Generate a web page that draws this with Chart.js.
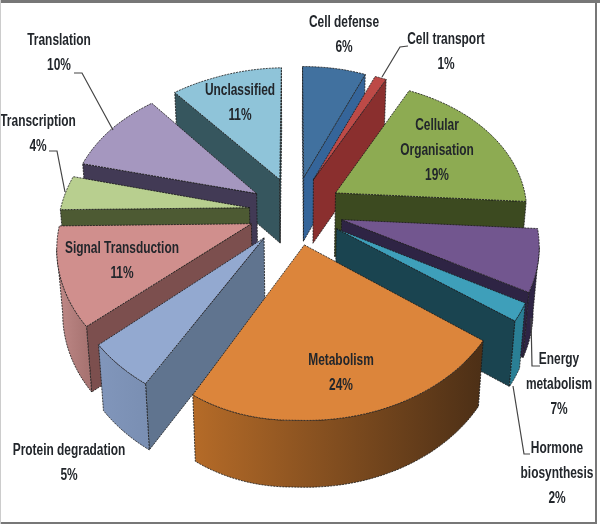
<!DOCTYPE html>
<html>
<head>
<meta charset="utf-8">
<title>Functional categories</title>
<script src="https://cdn.jsdelivr.net/npm/chart.js@4"></script>
<style>
  html, body { margin: 0; padding: 0; background: #fff; }
  #box { width: 600px; height: 526px; }
  canvas { filter: blur(0.4px); }
</style>
</head>
<body>
<div id="box"><canvas id="pie" width="600" height="526"></canvas></div>
<script>
// values
const categories = ['Cell defense', 'Cell transport', 'Cellular Organisation', 'Energy metabolism', 'Hormone biosynthesis',
  'Metabolism', 'Protein degradation', 'Signal Transduction', 'Transcription', 'Translation', 'Unclassified'];
const percents = [6, 1, 19, 7, 2, 24, 5, 11, 4, 10, 11];

// slice colours: top face, radial walls, outer wall (left to right)
const topColors = ['#41719f', '#bd4a47', '#8dab52', '#72568f', '#3e9fba', '#dc853b', '#93a9d0', '#d08f8d', '#b8cf8f', '#a597bf', '#8fc4d9'];
const sideColors = ['#35659a', '#8a2f2e', '#3c4a20', '#2e2444', '#1a4450', '#4f3016', '#60748f', '#7c4f4e', '#4d5a33', '#423a55', '#36565e'];
const outerColors = [['#35659a', '#35659a'], ['#8a2f2e', '#8a2f2e'], ['#3c4a20', '#3c4a20'], ['#2e2444', '#2e2444'],
  ['#2a7f95', '#2a7f95'], ['#b56b28', '#4c2f16'], ['#8196bb', '#7a8fb3'], ['#c08a88', '#a87472'], ['#4d5a33', '#4d5a33'],
  ['#423a55', '#423a55'], ['#36565e', '#36565e']];

// label placement, one entry per slice
const labelLines = [['Cell defense'], ['Cell transport'], ['Cellular', 'Organisation'], ['Energy', 'metabolism'], ['Hormone', 'biosynthesis'],
  ['Metabolism'], ['Protein degradation'], ['Signal Transduction'], ['Transcription'], ['Translation'], ['Unclassified']];
const labelPos = [[344, 23], [446, 40], [437, 126], [559, 360], [557, 449], [341, 361], [69, 451], [122, 249], [38, 122], [59, 41], [240, 91]];
const leaders = [
  [[408, 46], [400, 47], [382, 77]],
  [[540, 366], [532, 366], [531, 318]],
  [[530, 454], [524, 454], [513, 386]],
  [[49, 151], [57, 151], [65, 192]],
  [[74, 73], [82, 73], [113, 130]]
];

// fake camera for the tilted pie
const cam = { cx: 295, cy: 210, sx: 192, sy: 137, k: 0.152, depth: 64, shrink: 0.975 };

function clamp(n) { return Math.min(1, Math.max(0, n)); }

function project(u, v) {
  const w = 1 / (1 - cam.k * v);
  // the original's view is a bit off axis, these pull the left and back right rims in line
  const left = clamp(-u * 2);
  const backRight = clamp((u - 0.3) / 0.35) * clamp(-v);
  return {
    x: cam.cx + cam.sx * u * w + left * Math.max(0, 4 + 6 * v) + 8 * backRight,
    y: cam.cy + cam.sy * v * w + left * (4 + 2 * v) + 3 * backRight,
    w: w
  };
}
function lower(p) {
  return { x: cam.cx + (p.x - cam.cx) * cam.shrink, y: p.y + cam.depth + 12 * (p.w - 1) };
}
function poly(ctx, pts, fill) {
  ctx.beginPath();
  pts.forEach((p, i) => i ? ctx.lineTo(p.x, p.y) : ctx.moveTo(p.x, p.y));
  ctx.closePath();
  ctx.fillStyle = fill;
  ctx.fill();
  ctx.stroke();
}
// a radial wall shows only when the wedge lies above its edge on screen
function wallVisible(a, b, other) {
  const l = a.x < b.x ? a : b, r = a.x < b.x ? b : a;
  return (r.x - l.x) * (other.y - l.y) - (r.y - l.y) * (other.x - l.x) < 0;
}

const pie3d = {
  id: 'pie3d',
  beforeDatasetsDraw(chart) {
    const ctx = chart.ctx;
    const arcs = chart.getDatasetMeta(0).data;
    const slices = arcs.map((arc, i) => {
      const start = arc.startAngle, end = arc.endAngle, mid = (start + end) / 2;
      const e = arc.options.offset / arc.outerRadius;
      const ox = e * Math.cos(mid), oy = e * Math.sin(mid);
      const rim = [];
      for (let s = 0; s <= 48; s++) {
        const a = start + (end - start) * s / 48;
        rim.push(project(ox + Math.cos(a), oy + Math.sin(a)));
      }
      return { i: i, apex: project(ox, oy), rim: rim, order: Math.sin(mid) };
    });
    slices.sort((a, b) => a.order - b.order);

    ctx.save();
    ctx.lineWidth = 1;
    ctx.strokeStyle = 'rgba(25,25,25,0.8)';
    ctx.setLineDash([2, 1]);
    slices.forEach(s => {
      const first = s.rim[0], last = s.rim[s.rim.length - 1];
      if (wallVisible(s.apex, first, last)) {
        poly(ctx, [s.apex, first, lower(first), lower(s.apex)], sideColors[s.i]);
      }
      if (wallVisible(s.apex, last, first)) {
        poly(ctx, [s.apex, last, lower(last), lower(s.apex)], sideColors[s.i]);
      }
      // outer wall, only the stretch that faces the viewer
      const front = s.rim.filter((p, n) => (n < s.rim.length - 1 && s.rim[n + 1].x < p.x) || (n > 0 && p.x < s.rim[n - 1].x));
      if (front.length > 1) {
        const grad = ctx.createLinearGradient(front[front.length - 1].x, 0, front[0].x, 0);
        grad.addColorStop(0, outerColors[s.i][0]);
        grad.addColorStop(1, outerColors[s.i][1]);
        poly(ctx, front.concat(front.map(lower).reverse()), grad);
      }
      poly(ctx, [s.apex].concat(s.rim), topColors[s.i]);
    });
    ctx.restore();
    return false;
  },
  afterDraw(chart) {
    const ctx = chart.ctx;
    ctx.save();
    // leader lines
    ctx.strokeStyle = '#444';
    ctx.lineWidth = 1.2;
    leaders.forEach(line => {
      ctx.beginPath();
      line.forEach((p, i) => i ? ctx.lineTo(p[0], p[1]) : ctx.moveTo(p[0], p[1]));
      ctx.stroke();
    });
    // labels, squeezed because no narrow face is installed
    ctx.fillStyle = '#22262b';
    ctx.font = 'bold 16px "Liberation Sans", sans-serif';
    ctx.textAlign = 'center';
    ctx.textBaseline = 'middle';
    labelLines.forEach((lines, i) => {
      const all = lines.concat(percents[i] + '%');
      all.forEach((t, n) => {
        ctx.save();
        ctx.translate(labelPos[i][0], labelPos[i][1] + n * 25);
        ctx.scale(0.745, 1);
        ctx.fillText(t, 0, 0);
        ctx.restore();
      });
    });
    // picture frame
    ctx.fillStyle = '#777';
    ctx.fillRect(0, 0, 600, 3);
    ctx.fillRect(595, 0, 2, 524);
    ctx.fillRect(0, 522, 597, 2);
    ctx.fillStyle = '#ccc';
    ctx.fillRect(0, 0, 1, 524);
    ctx.restore();
  }
};

new Chart(document.getElementById('pie'), {
  type: 'pie',
  data: {
    labels: categories,
    datasets: [{ data: percents, backgroundColor: topColors, offset: 58.4, borderWidth: 0 }]
  },
  options: {
    responsive: false,
    animation: false,
    plugins: { legend: { display: false }, tooltip: { enabled: false } }
  },
  plugins: [pie3d]
});
</script>
</body>
</html>
